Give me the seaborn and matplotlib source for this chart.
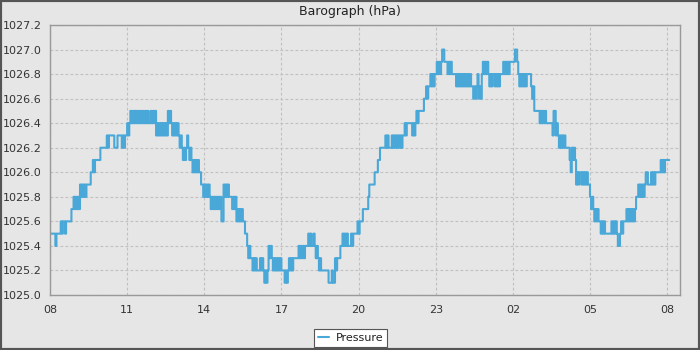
import matplotlib
matplotlib.use("Agg")
import matplotlib.pyplot as plt
import matplotlib.dates as mdates
from matplotlib.patches import Rectangle
from matplotlib.ticker import FixedLocator, MultipleLocator, FormatStrFormatter
import numpy as np
import pandas as pd
import seaborn as sns

# ---- data: readings every 2.5 minutes from 08:00, in tenths of hPa above 1025.0 ----
base_hpa = 1025.0
t08 = [5, 5, 5, 5, 5, 4, 5, 5, 5, 5, 6, 5, 6, 6, 5, 6, 6, 6, 6, 6, 7, 7, 8, 7]
t09 = [8, 7, 8, 7, 9, 8, 9, 8, 9, 8, 9, 9, 9, 9, 10, 10, 11, 10, 11, 11, 11, 11, 11, 12]
t10 = [12, 12, 12, 12, 12, 13, 12, 13, 13, 13, 13, 13, 12, 12, 12, 13, 13, 13, 13, 12, 13, 12, 13, 13]
t11 = [14, 13, 14, 15, 14, 15, 14, 15, 14, 15, 14, 15, 14, 15, 14, 15, 14, 15, 14, 15, 14, 14, 15, 14]
t12 = [15, 14, 15, 13, 14, 13, 14, 13, 14, 13, 14, 13, 14, 13, 15, 14, 15, 14, 13, 14, 13, 14, 13, 14]
t13 = [13, 12, 13, 12, 11, 12, 11, 12, 13, 12, 11, 12, 11, 10, 11, 10, 11, 10, 11, 10, 10, 9, 9, 8]
t14 = [9, 8, 9, 8, 9, 8, 7, 8, 7, 8, 7, 8, 7, 8, 7, 8, 6, 6, 9, 8, 9, 8, 9, 8]
t15 = [8, 8, 7, 8, 7, 8, 6, 7, 6, 7, 6, 7, 6, 6, 5, 5, 4, 3, 4, 3, 3, 2, 3, 2]
t16 = [3, 2, 2, 2, 3, 2, 3, 2, 1, 2, 1, 2, 4, 3, 4, 3, 2, 3, 2, 3, 2, 3, 2, 3]
t17 = [2, 2, 2, 1, 2, 1, 2, 3, 2, 3, 2, 3, 3, 3, 3, 3, 4, 3, 4, 3, 4, 3, 4, 4]
t18 = [4, 5, 4, 5, 4, 4, 5, 4, 3, 4, 3, 2, 3, 2, 2, 2, 2, 2, 2, 2, 1, 1, 1, 2]
t19 = [1, 1, 3, 2, 3, 3, 3, 4, 4, 5, 4, 5, 4, 5, 4, 4, 4, 5, 4, 5, 5, 5, 5, 6]
t20 = [5, 6, 6, 6, 7, 7, 7, 7, 7, 8, 9, 9, 9, 9, 9, 10, 10, 10, 11, 11, 12, 12, 12, 12]
t21 = [12, 13, 12, 13, 12, 12, 12, 13, 12, 13, 12, 13, 12, 13, 12, 13, 12, 13, 13, 14, 13, 14, 14, 14]
t22 = [14, 14, 13, 14, 13, 14, 15, 14, 15, 15, 15, 15, 15, 16, 16, 17, 16, 17, 17, 18, 17, 18, 17, 18]
t23 = [18, 19, 18, 19, 18, 19, 20, 20, 19, 19, 19, 18, 19, 18, 19, 18, 18, 18, 18, 17, 18, 17, 18, 17]
t00 = [18, 17, 18, 17, 18, 17, 18, 17, 18, 17, 17, 16, 17, 16, 17, 18, 16, 17, 16, 18, 19, 18, 19, 18]
t01 = [19, 18, 17, 18, 17, 18, 18, 17, 18, 17, 18, 17, 18, 18, 18, 19, 18, 19, 18, 19, 18, 19, 19, 19]
t02 = [19, 19, 20, 20, 19, 18, 17, 18, 17, 18, 17, 18, 17, 18, 18, 18, 18, 17, 16, 17, 15, 15, 15, 15]
t03 = [15, 14, 15, 14, 15, 14, 15, 14, 14, 14, 14, 14, 14, 13, 15, 15, 13, 14, 13, 12, 13, 12, 13, 12]
t04 = [13, 12, 12, 12, 12, 11, 10, 12, 11, 12, 11, 9, 10, 9, 10, 10, 9, 10, 9, 10, 9, 10, 9, 9]
t05 = [8, 7, 8, 7, 6, 7, 6, 7, 6, 6, 5, 6, 5, 6, 5, 5, 5, 5, 5, 5, 6, 5, 6, 5]
t06 = [6, 5, 4, 4, 5, 6, 5, 6, 6, 6, 7, 6, 7, 6, 7, 6, 7, 6, 7, 8, 8, 9, 8, 9]
t07 = [8, 9, 8, 9, 10, 10, 9, 9, 9, 10, 9, 10, 9, 10, 10, 10, 10, 10, 11, 10, 11, 10, 11, 11]
t08b = [11, 11, 11]

tenths = (t08 + t09 + t10 + t11 + t12 + t13 + t14 + t15 + t16 + t17 + t18 + t19 +
          t20 + t21 + t22 + t23 + t00 + t01 + t02 + t03 + t04 + t05 + t06 + t07 + t08b)
start_time = "2024-01-01 08:00"
sample_step = "150s"
y_ticks = [1025.0, 1025.2, 1025.4, 1025.6, 1025.8, 1026.0, 1026.2, 1026.4,
           1026.6, 1026.8, 1027.0, 1027.2]
x_tick_hours = [8, 11, 14, 17, 20, 23, 2, 5, 8]
title = "Barograph (hPa)"
series_name = "Pressure"

times = pd.date_range(start_time, periods=len(tenths), freq=sample_step)
df = pd.DataFrame({"time": times, "pressure": base_hpa + np.array(tenths) / 10.0})

# ---- style ----
sns.set_style("white")
plt.rcParams["font.family"] = ["DejaVu Sans"]
bg = "#e6e6e6"
line_color = "#4aa8d8"
text_color = "#333333"

fig = plt.figure(figsize=(7, 3.5), dpi=100, facecolor=bg)
ax = fig.add_axes([50 / 700, 55 / 350, 630 / 700, 270 / 350])
ax.set_facecolor(bg)

sns.lineplot(data=df, x="time", y="pressure", ax=ax, color=line_color,
             linewidth=1.5, drawstyle="steps-post", label=series_name)

ax.set_xlim(pd.Timestamp(start_time), pd.Timestamp(start_time) + pd.Timedelta(hours=24.5))
ax.set_ylim(y_ticks[0], y_ticks[-1])

ax.xaxis.set_major_locator(mdates.HourLocator(byhour=sorted(set(x_tick_hours))))
ax.xaxis.set_major_formatter(mdates.DateFormatter("%H"))
ax.xaxis.set_minor_locator(mdates.HourLocator())
ax.yaxis.set_major_locator(FixedLocator(y_ticks))
ax.yaxis.set_major_formatter(FormatStrFormatter("%.1f"))
ax.yaxis.set_minor_locator(MultipleLocator(0.1))

ax.set_xlabel("")
ax.set_ylabel("")
ax.grid(True, which="major", color="#c0c0c0", linestyle=(0, (2.5, 2)), linewidth=0.8)
for s in ax.spines.values():
    s.set_visible(True)
    s.set_color("#999999")
    s.set_linewidth(1.0)

ax.tick_params(axis="both", which="major", direction="out", length=3, width=0.8,
               color="#888888", labelsize=8, labelcolor=text_color, pad=3)
ax.tick_params(axis="both", which="minor", direction="out", length=2, width=0.8,
               color="#888888")
ax.tick_params(axis="x", which="major", pad=4)

fig.text(0.5, 1 - 12 / 350, title, ha="center", va="center", fontsize=9, color="#222222")

leg = ax.legend(loc="center", bbox_to_anchor=(350.5 / 700, 1 - 338 / 350),
                bbox_transform=fig.transFigure, frameon=True, fancybox=False,
                edgecolor="#555555", facecolor="white", framealpha=1, fontsize=8,
                handlelength=1.0, handletextpad=0.6, borderpad=0.35)
leg.get_frame().set_linewidth(0.8)
for t in leg.get_texts():
    t.set_color("#222222")

fig.patches.append(Rectangle((0, 0), 1, 1, transform=fig.transFigure, fill=False,
                             edgecolor="#555555", linewidth=3, zorder=10))

fig.savefig("out.png", dpi=100, facecolor=bg)
